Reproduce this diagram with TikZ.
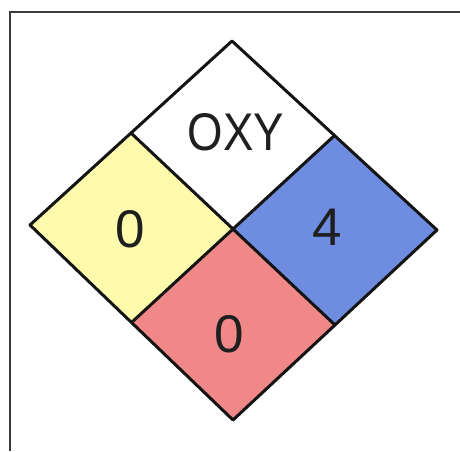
\documentclass[tikz,border=0pt]{standalone}
\usepackage{fontspec}
\usetikzlibrary{calc}
\setmainfont{Liberation Sans}
\definecolor{hzyellow}{RGB}{255,251,172}
\definecolor{hzblue}{RGB}{110,140,224}
\definecolor{hzred}{RGB}{240,136,136}
\definecolor{framegray}{RGB}{60,60,60}
\tikzset{
  edge/.style={line width=3pt, line join=round, draw=black!92},
  framel/.style={line width=2.2pt, draw=framegray},
  lbl/.style={inner sep=0pt, font=\fontsize{53}{53}\selectfont, text=black!88}
}
\begin{document}
\begin{tikzpicture}[x=1pt,y=1pt]
\useasboundingbox (0,0) rectangle (460,-451);
\coordinate (T) at (232,-41);
\coordinate (B) at (233,-420);
\coordinate (L) at (30,-225);
\coordinate (R) at (437,-230);
\coordinate (C) at (233,-229);
\coordinate (TL) at ($(T)!0.5!(L)$);
\coordinate (TR) at ($(T)!0.5!(R)$);
\coordinate (BL) at ($(B)!0.5!(L)$);
\coordinate (BR) at ($(B)!0.5!(R)$);
\coordinate (F1) at (10,-451);
\coordinate (F2) at (10,-12);
\coordinate (F3) at (460,-12);
% fills
\fill[white] (T) -- (TR) -- (C) -- (TL) -- cycle;
\fill[hzyellow] (L) -- (TL) -- (C) -- (BL) -- cycle;
\fill[hzblue] (R) -- (TR) -- (C) -- (BR) -- cycle;
\fill[hzred] (B) -- (BL) -- (C) -- (BR) -- cycle;
% outlines
\draw[edge] (T) -- (R) -- (B) -- (L) -- cycle;
\draw[edge] (TL) -- (BR);
\draw[edge] (TR) -- (BL);
% frame
\draw[framel] (F1) -- (F2) -- (F3);
% labels
\node[lbl] (oxy) at (236,-132) {\scalebox{0.86}[1]{OXY}};
\node[lbl] (flam) at (130,-229) {0};
\node[lbl] (health) at (327,-227) {4};
\node[lbl] (react) at (229,-334) {0};
\end{tikzpicture}
\end{document}
